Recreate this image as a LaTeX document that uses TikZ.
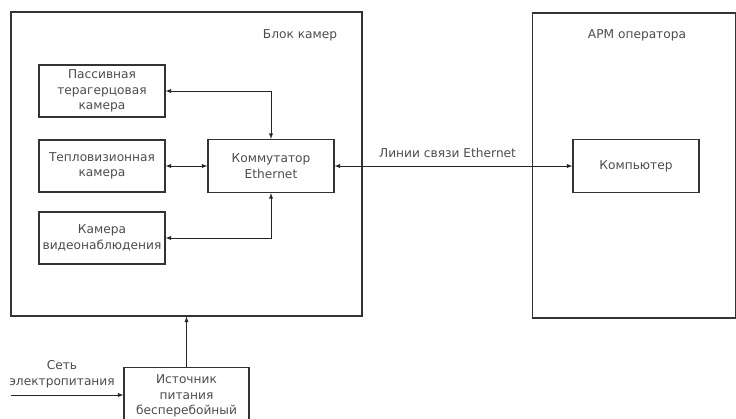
\documentclass[tikz,border=0pt]{standalone}
\usepackage{fontspec}
\setmainfont{DejaVu Sans}
\begin{document}
\begin{tikzpicture}[x=1pt,y=-1pt,
    font=\fontsize{12.2}{15.5}\selectfont,
    every node/.style={text=black!70},
    blk/.style={draw=black!80, line width=1.1pt, align=center, inner sep=0pt},
    conn/.style={draw=black!85, line width=0.9pt}]
        \useasboundingbox (0,0) rectangle (736,419);
        % outer blocks
        \node[blk, minimum width=351, minimum height=304] (cam) at (186.5,164) {};
        \node[blk, minimum width=203, minimum height=305] (apm) at (634,165.5) {};
        \node (camlbl) at (300,35) {Блок камер};
        \node (apmlbl) at (637,35) {АРМ оператора};
        % cameras
        \node[blk, minimum width=126, minimum height=52] (pas) at (102,91) {Пассивная\\терагерцовая\\камера};
        \node[blk, minimum width=126, minimum height=52] (therm) at (102,166) {Тепловизионная\\камера};
        \node[blk, minimum width=126, minimum height=52] (video) at (102,238) {Камера\\видеонаблюдения};
        \node[blk, minimum width=126, minimum height=53] (comm) at (271,166) {Коммутатор\\Ethernet};
        \node[blk, minimum width=126, minimum height=53] (comp) at (636,166) {Компьютер};
        % power
        \node[blk, minimum width=125, minimum height=57] (ups) at (186.5,396) {Источник\\питания\\бесперебойный};
        \node[align=center] (mains) at (62,374) {Сеть\\электропитания};
        \coordinate (src) at (11,395);
        \draw[conn, {latex}-{latex}] (pas.east) -| (comm.north);
        \draw[conn, {latex}-{latex}] (therm.east) -- (comm.west);
        \draw[conn, {latex}-{latex}] (video.east) -| (comm.south);
        \draw[conn, {latex}-{latex}] (comm.east) --node[above=5pt, pos=0.475]{Линии связи Ethernet} (comp.west);
        \draw[conn, -{latex}] (ups.north) -- (ups.north |- cam.south);
        \draw[conn, -{latex}] (src) -- (ups.west |- src);
    \end{tikzpicture}
\end{document}
